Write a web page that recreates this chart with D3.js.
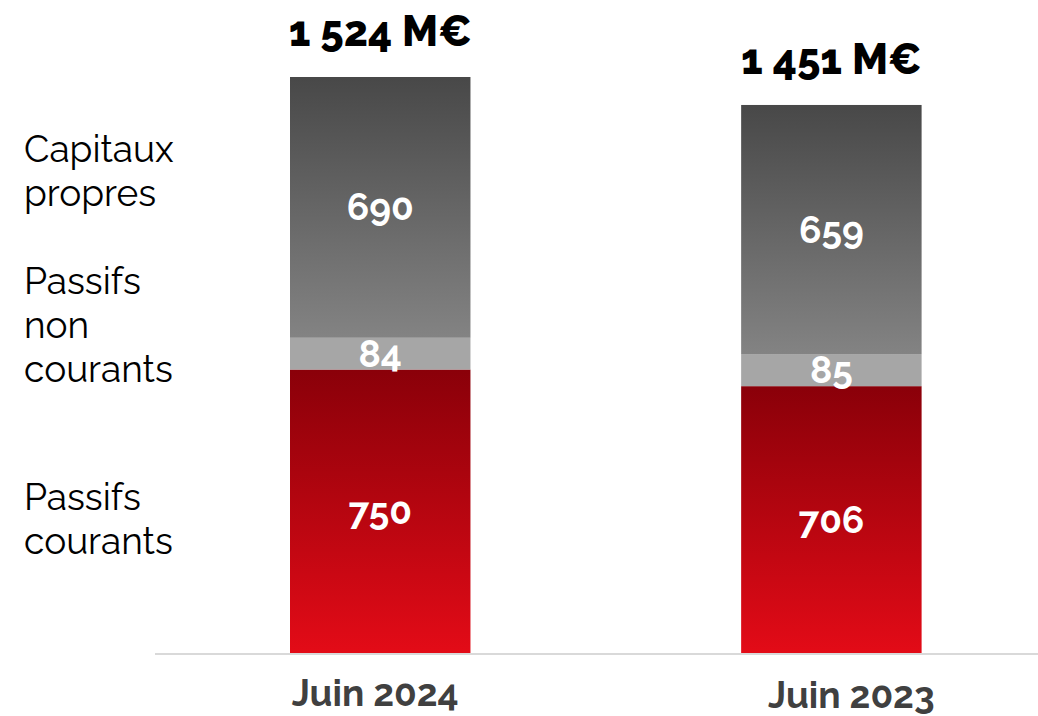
<!DOCTYPE html>
<html><head><meta charset="utf-8">
<script src="https://cdn.jsdelivr.net/npm/d3@7"></script>
<style>body{margin:0;background:#fff}svg{display:block}</style>
</head><body>
<svg id="c" width="1038" height="716"></svg>
<script>
const categories = ["Juin 2024", "Juin 2023"];
const seriesNames = ["Passifs courants", "Passifs non courants", "Capitaux propres"];
const passifsCourants = [750, 706];
const passifsNonCourants = [84, 85];
const capitauxPropres = [690, 659];
const totalLabels = ["1 524 M€", "1 451 M€"];
const legendLines = [["Passifs", "courants"], ["Passifs", "non", "courants"], ["Capitaux", "propres"]];

const svg = d3.select("#c");
const font = "Raleway, Lato, 'Open Sans', sans-serif";
const baseY = 653;
const x = d3.scaleBand().domain(categories).range([290, 921.6]).paddingInner(0.6).paddingOuter(0);
const y = d3.scaleLinear().domain([0, 1524]).range([baseY, 77]);

const defs = svg.append("defs");
const gR = defs.append("linearGradient").attr("id", "gRed").attr("x1",0).attr("y1",0).attr("x2",0).attr("y2",1);
gR.append("stop").attr("offset","0%").attr("stop-color","#8a0009");
gR.append("stop").attr("offset","100%").attr("stop-color","#e30b17");
const gG = defs.append("linearGradient").attr("id", "gGray").attr("x1",0).attr("y1",0).attr("x2",0).attr("y2",1);
gG.append("stop").attr("offset","0%").attr("stop-color","#484848");
gG.append("stop").attr("offset","100%").attr("stop-color","#838383");

const rows = categories.map((c, i) => ({cat: c, pc: passifsCourants[i], pnc: passifsNonCourants[i], cp: capitauxPropres[i]}));
const stack = d3.stack().keys(["pc", "pnc", "cp"])(rows);
const fills = {pc: "url(#gRed)", pnc: "#a6a6a6", cp: "url(#gGray)"};

// axis line
svg.append("line").attr("x1", 155).attr("x2", 1038).attr("y1", baseY + 1).attr("y2", baseY + 1)
  .attr("stroke", "#d9d9d9").attr("stroke-width", 2);

stack.forEach(layer => {
  const g = svg.append("g");
  g.selectAll("rect").data(layer).join("rect")
    .attr("x", d => x(d.data.cat))
    .attr("width", x.bandwidth())
    .attr("y", d => y(d[1]))
    .attr("height", d => y(d[0]) - y(d[1]))
    .attr("fill", fills[layer.key]);
  g.selectAll("text").data(layer).join("text")
    .attr("x", d => x(d.data.cat) + x.bandwidth() / 2)
    .attr("y", d => (y(d[0]) + y(d[1])) / 2 + 13)
    .attr("text-anchor", "middle")
    .attr("font-family", font).attr("font-weight", 700).attr("font-size", 37)
    .attr("fill", "#fff")
    .text(d => d.data[layer.key]);
});

// totals
svg.selectAll("text.tot").data(rows).join("text").attr("class", "tot")
  .attr("x", d => x(d.cat) + x.bandwidth() / 2)
  .attr("y", d => y(d.pc + d.pnc + d.cp) - 31)
  .attr("text-anchor", "middle")
  .attr("font-family", font).attr("font-weight", 800).attr("font-size", 42)
  .attr("fill", "#000")
  .text((d, i) => totalLabels[i]);

// category labels
svg.selectAll("text.cat").data(categories).join("text").attr("class", "cat")
  .attr("x", (d, i) => x(d) + x.bandwidth() / 2 + (i === 0 ? -5 : 20))
  .attr("y", (d, i) => i === 0 ? 706 : 708)
  .attr("text-anchor", "middle")
  .attr("font-family", font).attr("font-weight", 700).attr("font-size", 37)
  .attr("fill", "#404040")
  .text(d => d);

// left legend labels
const legendY = [510, 294, 162];
legendLines.forEach((lines, k) => {
  const t = svg.append("text").attr("x", 24).attr("y", legendY[k])
    .attr("font-family", font).attr("font-size", 37).attr("fill", "#000");
  lines.forEach((l, j) => t.append("tspan").attr("x", 24).attr("dy", j === 0 ? 0 : 44).text(l));
});
</script>
</body></html>
